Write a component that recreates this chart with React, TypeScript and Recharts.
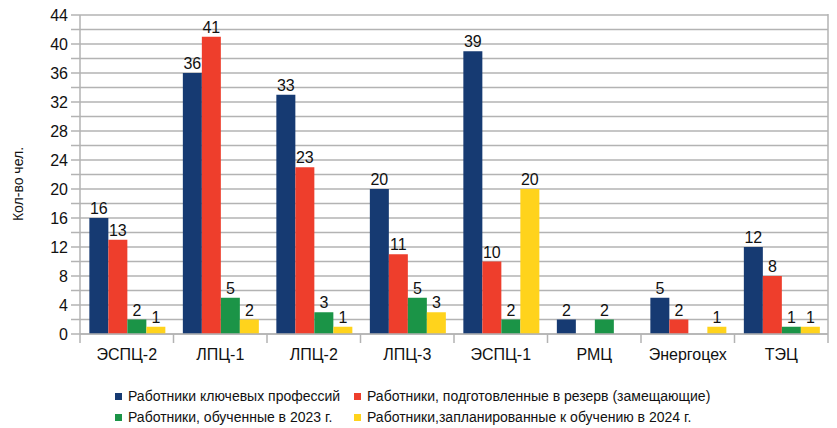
import { BarChart, Bar, XAxis, YAxis, CartesianGrid, LabelList } from 'recharts';

const categories = ['ЭСПЦ-2', 'ЛПЦ-1', 'ЛПЦ-2', 'ЛПЦ-3', 'ЭСПЦ-1', 'РМЦ', 'Энергоцех', 'ТЭЦ'];
const keyWorkers = [16, 36, 33, 20, 39, 2, 5, 12];
const reserveWorkers = [13, 41, 23, 11, 10, null, 2, 8];
const trained2023 = [2, 5, 3, 5, 2, 2, null, 1];
const planned2024 = [1, 2, 1, 3, 20, null, 1, 1];
const yTicks = [0, 2, 4, 6, 8, 10, 12, 14, 16, 18, 20, 22, 24, 26, 28, 30, 32, 34, 36, 38, 40, 42, 44];

const seriesNames = [
  'Работники ключевых профессий',
  'Работники, подготовленные в резерв (замещающие)',
  'Работники, обученные в 2023 г.',
  'Работники,запланированные к обучению в 2024 г.',
];
const COLORS = ['#163a72', '#ee3e2c', '#1b9447', '#ffd31c'];

const data = categories.map((name, i) => ({
  name,
  s0: keyWorkers[i],
  s1: reserveWorkers[i],
  s2: trained2023[i],
  s3: planned2024[i],
}));

const W = 837;
const H = 428;
const X_H = 30;
const M = { top: 15, right: 9, bottom: 94 - X_H, left: 0 };
const Y_W = 80;
const BAND = (W - M.left - M.right - Y_W) / categories.length;
const FONT = '"Liberation Sans", Arial, sans-serif';
const GRID = '#b3b3b3';

const CatTick = (props: any) => {
  const { x, y, payload, index } = props;
  const left = x - BAND / 2;
  return (
    <g>
      <line x1={left} y1={y} x2={left} y2={y + 9} stroke={GRID} strokeWidth={1.5} />
      {index === categories.length - 1 && (
        <line x1={left + BAND} y1={y - 320} x2={left + BAND} y2={y + 9} stroke={GRID} strokeWidth={1.5} />
      )}
      <text x={x} y={y + 14} dy="0.75em" textAnchor="middle" fontSize={16} fill="#111" fontFamily={FONT}>
        {payload.value}
      </text>
    </g>
  );
};

const YLabel = () => (
  <text
    x={18}
    y={184}
    transform="rotate(-90 18 184)"
    textAnchor="middle"
    dominantBaseline="central"
    fontSize={14}
    fill="#111"
    fontFamily={FONT}
  >
    Кол-во чел.
  </text>
);

const LegendBox = () => {
  const pos = [
    { left: 115, top: 388 },
    { left: 354, top: 388 },
    { left: 115, top: 409 },
    { left: 354, top: 409 },
  ];
  return (
    <>
      {seriesNames.map((n, i) => (
        <div
          key={n}
          style={{
            position: 'absolute',
            left: pos[i].left,
            top: pos[i].top,
            display: 'flex',
            alignItems: 'center',
            whiteSpace: 'nowrap',
            fontFamily: FONT,
            fontSize: 14,
            lineHeight: '16px',
            color: '#111',
          }}
        >
          <span style={{ width: 7, height: 7, background: COLORS[i], marginRight: 6, display: 'inline-block' }} />
          <span>{n}</span>
        </div>
      ))}
    </>
  );
};

export default function App() {
  return (
    <div style={{ position: 'absolute', left: 0, top: 0, width: W, height: H, background: '#fff' }}>
      <BarChart width={W} height={H} data={data} margin={M} barCategoryGap="10%" barGap={0}>
        <CartesianGrid vertical={false} stroke={GRID} strokeWidth={1.5} />
        <XAxis
          dataKey="name"
          height={X_H}
          tickSize={0}
          tickMargin={0}
          tick={<CatTick />}
          interval={0}
          axisLine={{ stroke: GRID, strokeWidth: 1.5 }}
          tickLine={false}
        />
        <YAxis
          width={Y_W}
          domain={[0, 44]}
          ticks={yTicks}
          interval={0}
          tickFormatter={(v: number) => (v % 4 === 0 ? String(v) : '')}
          tickSize={9}
          tickMargin={3}
          tick={{ fontSize: 16, fill: '#111', fontFamily: FONT }}
          tickLine={{ stroke: GRID, strokeWidth: 1.5 }}
          axisLine={{ stroke: GRID, strokeWidth: 1.5 }}
          label={{ content: () => <YLabel /> }}
        />
        {['s0', 's1', 's2', 's3'].map((k, i) => (
          <Bar key={k} dataKey={k} name={seriesNames[i]} fill={COLORS[i]} isAnimationActive={false}>
            <LabelList dataKey={k} position="top" offset={4} style={{ fontSize: 16, fill: '#111', fontFamily: FONT }} />
          </Bar>
        ))}
      </BarChart>
      <LegendBox />
    </div>
  );
}
